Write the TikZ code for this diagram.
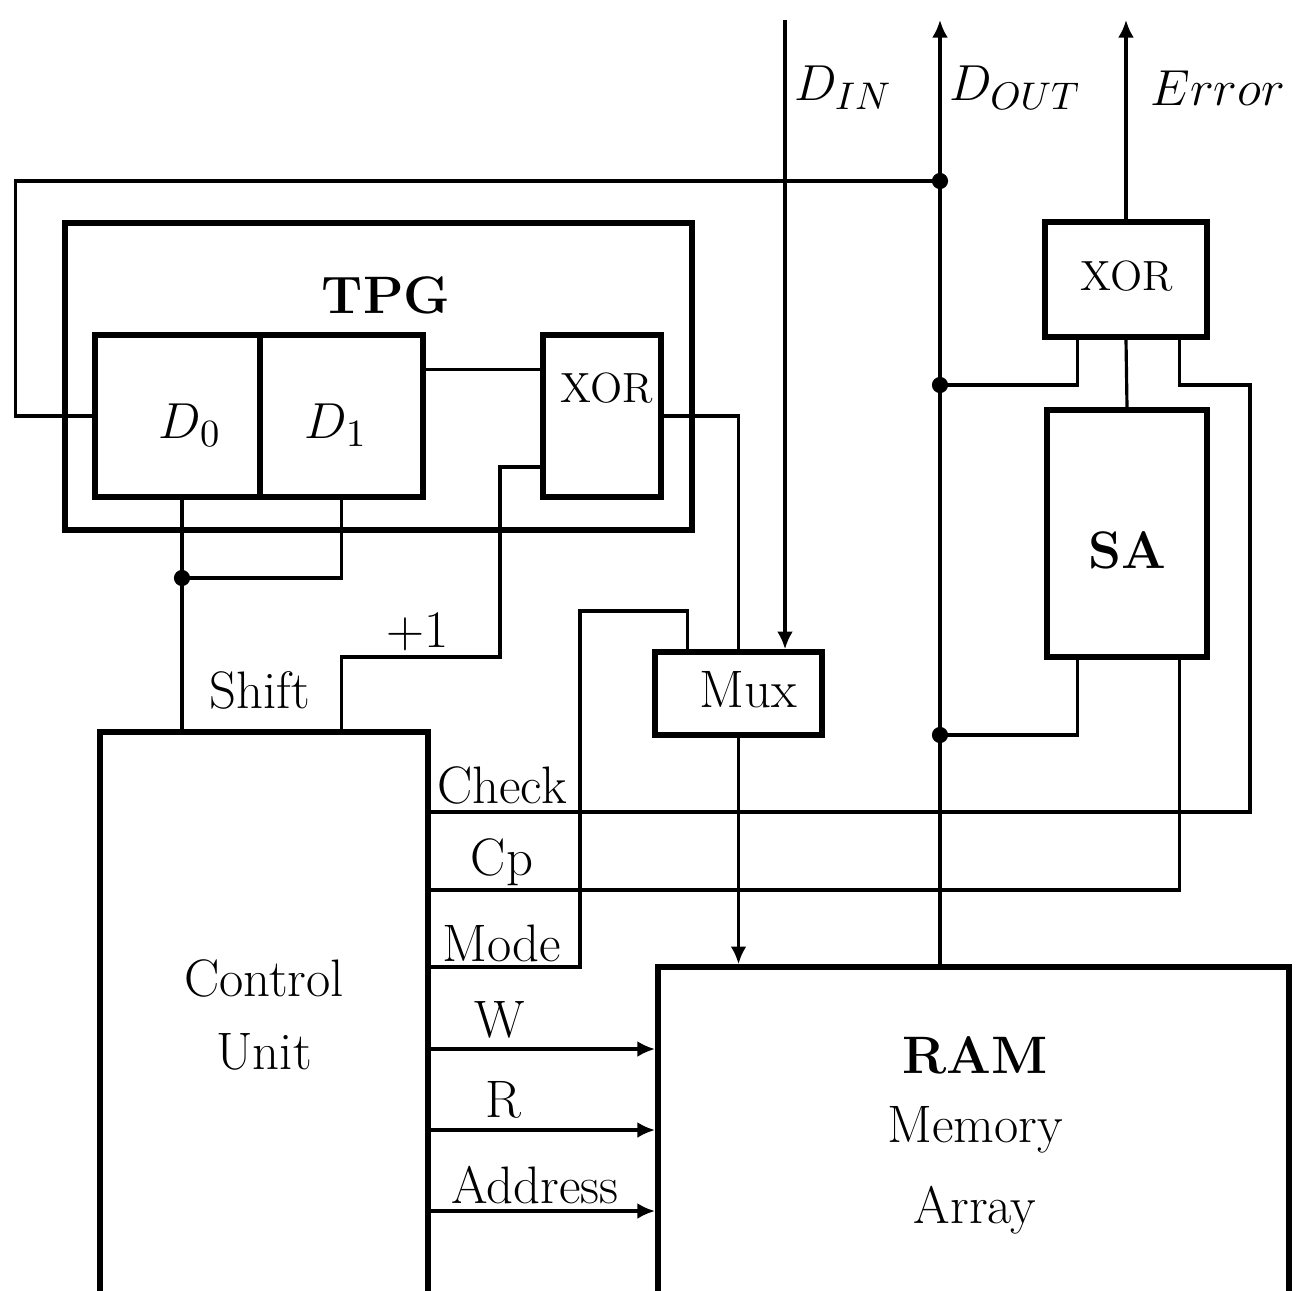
\documentclass[tikz,border=0pt]{standalone}
\usetikzlibrary{calc,arrows.meta}
\begin{document}
\begin{tikzpicture}[x=0.01cm,y=-0.01cm,
  every node/.style={font=\fontsize{15}{18}\selectfont},
  blk/.style={draw, line width=1.6pt, inner sep=0pt, rectangle},
  wire/.style={line width=0.9pt},
  arr/.style={wire,-{Latex[length=5pt,width=4.5pt]}},
  jdot/.style={circle, fill, inner sep=0pt, minimum size=4.6pt},
  lbl/.style={inner sep=0pt},
  small/.style={font=\fontsize{12}{14}\selectfont}]
\clip (0,0) rectangle (1297,1291);
% blocks
\node[blk, minimum width=6.27cm, minimum height=3.07cm] (tpg) at (378.5,376.5) {};
\node[blk, minimum width=1.65cm, minimum height=1.62cm] (d0) at (177.5,416) {};
\node[blk, minimum width=1.63cm, minimum height=1.62cm] (d1) at (341.5,416) {};
\node[blk, minimum width=1.18cm, minimum height=1.62cm] (xor1) at (602,416) {};
\node[blk, minimum width=1.67cm, minimum height=0.83cm] (mux) at (738.5,693.5) {};
\node[blk, minimum width=3.28cm, minimum height=5.68cm] (ctrl) at (264,1016) {};
\node[blk, minimum width=1.62cm, minimum height=1.15cm] (xor2) at (1126,279.5) {};
\node[blk, minimum width=1.60cm, minimum height=2.47cm] (sa) at (1127,533.5) {};
\node[blk, minimum width=6.31cm, minimum height=3.33cm] (ram) at (973.5,1133.5) {};
% block texts
\node[lbl] (tpgt) at (386,295) {\bfseries TPG};
\node[lbl] (d0t) at (190,425) {$D_0$};
\node[lbl] (d1t) at (336,425) {$D_1$};
\node[lbl, small] (xor1t) at (607,388) {XOR};
\node[lbl] (muxt) at (748,690) {Mux};
\node[lbl, small] (xor2t) at (1127,276) {XOR};
\node[lbl] (sat) at (1127,550) {\bfseries SA};
\node[lbl, align=center] (ctrlt) at (264,1015) {Control\\[3pt]Unit};
\node[lbl] (ramt) at (975,1055) {\bfseries RAM};
\node[lbl] (memt) at (975,1130) {Memory};
\node[lbl] (arrt) at (975,1210) {Array};
% coordinates
\coordinate (fb) at (940,181);
\coordinate (j1) at (940,385);
\coordinate (j2) at (940,735);
\coordinate (dout) at (940,20);
\coordinate (din) at (785,20);
\coordinate (err) at (1126,20);
\coordinate (shj) at (182,578);
\coordinate (cW) at ($(ctrl.north east)+(0,320)$);
\coordinate (cR) at ($(ctrl.north east)+(0,401)$);
\coordinate (cA) at ($(ctrl.north east)+(0,482)$);
% feedback
\draw[wire] (fb) -| ($(d0.west)+(-77,0)$) -- (d0.west);
\node[jdot] (fbd) at (fb) {};
\draw[arr] (fb |- ram.north) -- (dout);
\node[jdot] (j1d) at (j1) {};
\node[jdot] (j2d) at (j2) {};
\draw[arr] (din) -- (din |- mux.north);
\draw[arr] (xor2.north) -- (err);
% D0/D1 bottoms
\draw[wire] (shj |- d0.south) -- (shj |- ctrl.north);
\draw[wire] (d1.south) |- (shj);
\node[jdot] (shd) at (shj) {};
% TPG internal
\draw[wire] ($(d1.north east)+(0,37)$) -- ($(xor1.north west)+(0,37)$);
\draw[wire] ($(xor1.west)+(0,51)$) -| (500,657) -| (d1.south |- ctrl.north);
\draw[wire] (xor1.east) -| (mux.north);
% SA / XOR2
\draw[wire] (xor2.south) -- (sa.north);
\draw[wire] ($(xor2.south west)+(35,0)$) |- (j1);
\draw[wire] ($(sa.south west)+(33,0)$) |- (j2);
% control outputs
\draw[wire] ($(ctrl.north east)+(0,83)$) -| (1250,385) -| ($(xor2.south east)+(-30,0)$);
\draw[wire] ($(ctrl.north east)+(0,161)$) -| ($(sa.south east)+(-30,0)$);
\draw[wire] ($(ctrl.north east)+(0,238)$) -| (580,611) -| ($(mux.north west)+(35,0)$);
\draw[arr] (mux.south) -- (mux.south |- ram.north);
\draw[arr] (cW) -- (cW -| ram.west);
\draw[arr] (cR) -- (cR -| ram.west);
\draw[arr] (cA) -- (cA -| ram.west);
% labels
\node[lbl] (shl) at (260,690) {Shift};
\node[lbl] (p1l) at (418,632) {+1};
\node[lbl] (chl) at (502,785) {Check};
\node[lbl] (cpl) at (502,862) {Cp};
\node[lbl] (mol) at (502,943) {Mode};
\node[lbl] (wl) at (500,1020) {W};
\node[lbl] (rl) at (503,1100) {R};
\node[lbl] (adl) at (535,1185) {Address};
\node[lbl] (dinl) at (843,88) {$D_{IN}$};
\node[lbl] (doutl) at (1015,88) {$D_{OUT}$};
\node[lbl] (errl) at (1218,88) {$Error$};
\end{tikzpicture}
\end{document}
